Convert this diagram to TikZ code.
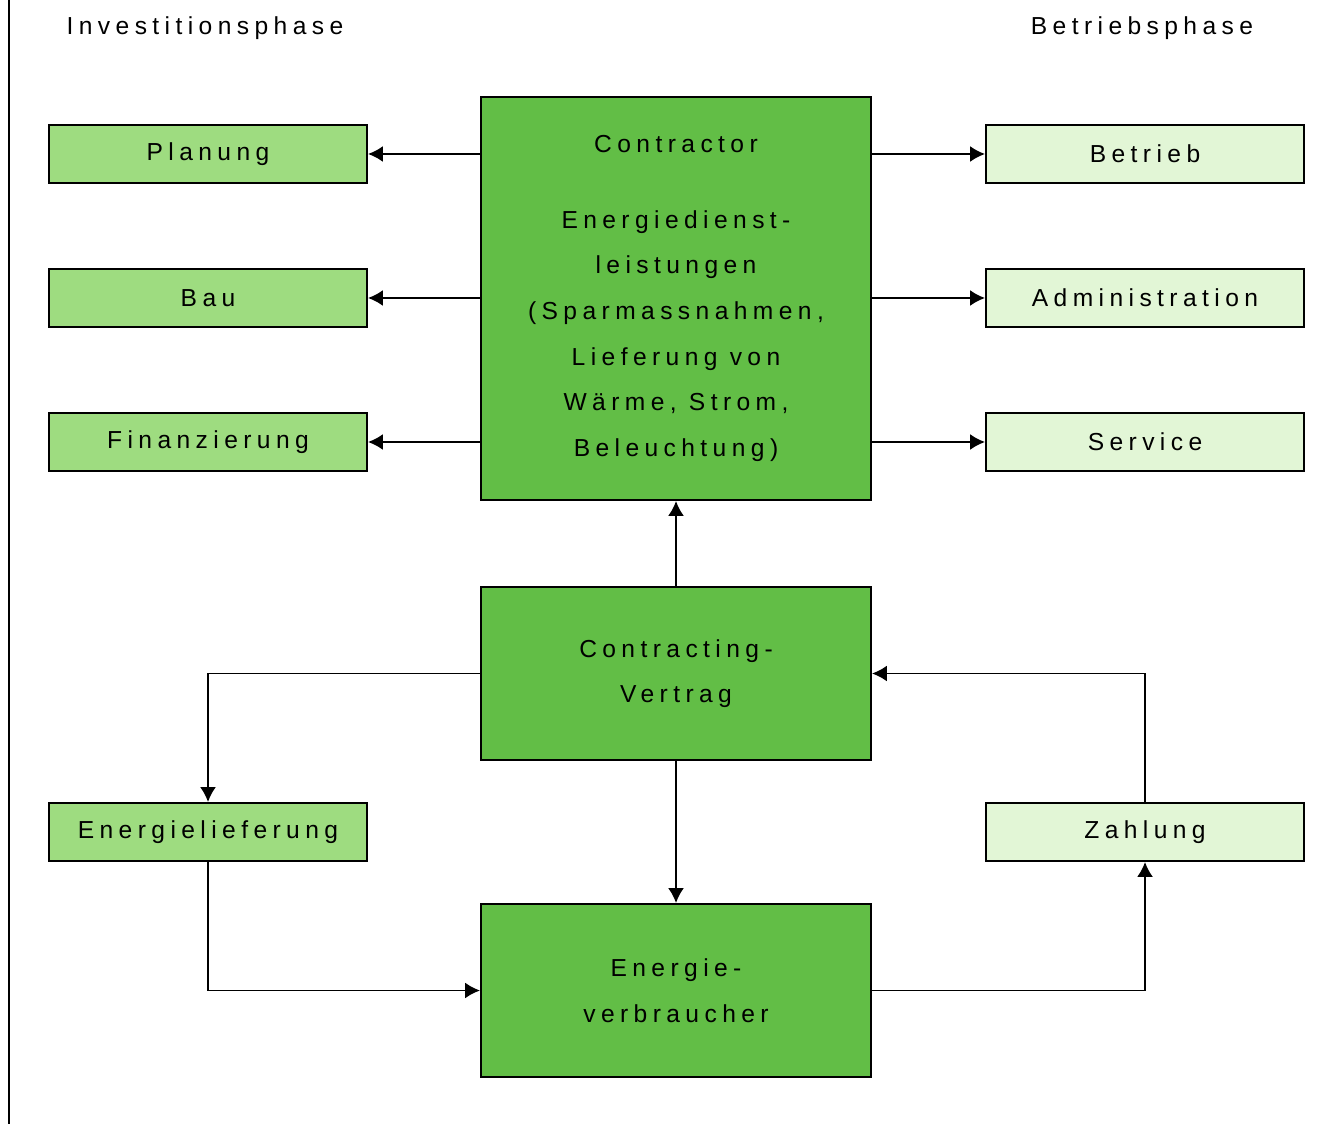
\documentclass[tikz,border=0pt]{standalone}
\usepackage{fontspec}
\setmainfont[LetterSpace=22]{Liberation Sans}
\usepackage{tikz}
\usetikzlibrary{arrows.meta}
\definecolor{darkgreen}{RGB}{98,190,70}
\definecolor{midgreen}{RGB}{158,220,128}
\definecolor{palegreen}{RGB}{226,246,214}
\tikzset{
every picture/.style={line width=1.1pt, >={Latex[length=0.3cm, width=0.32cm]}},
%%%%%%%%%% Node styles
phase/.style={inner sep=0, outer sep=0, font=\fontsize{14}{26}\selectfont},
invest/.style={draw, fill=midgreen, minimum width=318*0.02cm, minimum height=58*0.02cm,
               inner sep=0, font=\fontsize{14}{26}\selectfont},
betrieb/.style={draw, fill=palegreen, minimum width=318*0.02cm, minimum height=58*0.02cm,
               inner sep=0, font=\fontsize{14}{26}\selectfont},
mainbox/.style={draw, fill=darkgreen, minimum width=390*0.02cm, inner sep=0,
                align=center, font=\fontsize{14}{26}\selectfont},
%%%%%%%%%% line styles
link/.style={->}
}

\begin{document}
\begin{tikzpicture}[x=0.02cm, y=-0.02cm]
\useasboundingbox (0,0) rectangle (1342,1124);
\draw (9,0) -- (9,1124);
%% phase titles
\node[phase] (invphase) at (205,28) {Investitionsphase};
\node[phase] (betrphase) at (1142,28) {Betriebsphase};
%% central boxes
\node[mainbox, minimum height=403*0.02cm] (contractor) at (676,298.5)
  {Contractor\\[17pt] Energiedienst-\\ leistungen\\ (Sparmassnahmen,\\
   Lieferung von\\ Wärme, Strom,\\ Beleuchtung)};
\node[mainbox, minimum height=173*0.02cm] (vertrag) at (676,673.5)
  {Contracting-\\ Vertrag};
\node[mainbox, minimum height=173*0.02cm] (verbraucher) at (676,990.5)
  {Energie-\\ verbraucher};
%% left column
\node[invest] (planung) at (208,154) {Planung};
\node[invest] (bau) at (208,298) {Bau};
\node[invest] (finanz) at (208,442) {Finanzierung};
\node[invest] (lieferung) at (208,832) {Energielieferung};
%% right column
\node[betrieb] (betrieb) at (1145,154) {Betrieb};
\node[betrieb] (admin) at (1145,298) {Administration};
\node[betrieb] (service) at (1145,442) {Service};
\node[betrieb] (zahlung) at (1145,832) {Zahlung};
%% contractor to the phases
\foreach \n in {planung, bau, finanz}
  \draw[link] (\n.east -| contractor.west) -- (\n.east);
\foreach \n in {betrieb, admin, service}
  \draw[link] (\n.west -| contractor.east) -- (\n.west);
%% the contract loop
\draw[link] (vertrag) -- (contractor);
\draw[link] (vertrag) -- (verbraucher);
\draw[link] (vertrag.west) -| (lieferung.north);
\draw[link] (lieferung.south) |- (verbraucher.west);
\draw[link] (verbraucher.east) -| (zahlung.south);
\draw[link] (zahlung.north) |- (vertrag.east);
\end{tikzpicture}
\end{document}
